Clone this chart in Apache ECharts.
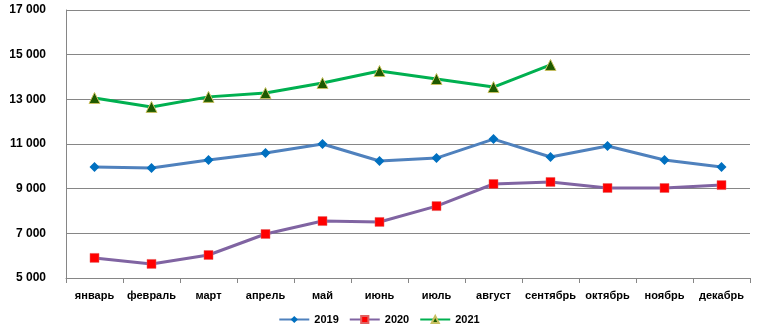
<!DOCTYPE html>
<html><head><meta charset="utf-8">
<script src="https://cdn.jsdelivr.net/npm/echarts@6/dist/echarts.min.js"></script>
<style>html,body{margin:0;padding:0;background:#fff}#c{width:758px;height:336px}</style>
</head><body><div id="c"></div>
<script>
const categories = ['январь','февраль','март','апрель','май','июнь','июль','август','сентябрь','октябрь','ноябрь','декабрь'];
const s2019 = [9970, 9930, 10280, 10600, 11000, 10240, 10370, 11220, 10420, 10910, 10280, 9970];
const s2020 = [5900, 5630, 6030, 6970, 7550, 7510, 8220, 9210, 9300, 9030, 9030, 9160];
const s2021 = [13060, 12660, 13110, 13280, 13730, 14270, 13910, 13550, 14540];
const yTicks = [5000, 7000, 9000, 11000, 13000, 15000, 17000];

const fmt = v => String(v).replace(/\B(?=(\d{3})+(?!\d))/g, ' ');
const font = 'Arial, "Liberation Sans", sans-serif';
const chart = echarts.init(document.getElementById('c'));
chart.setOption({
  animation: false,
  grid: { left: 66, right: 8, top: 10, bottom: 58 },
  xAxis: {
    type: 'category', data: categories, boundaryGap: true,
    axisLine: { lineStyle: { color: '#868686', width: 1 } },
    axisTick: { show: true, interval: 0, alignWithLabel: false, length: 5, lineStyle: { color: '#868686' } },
    axisLabel: { interval: 0, color: '#000', fontFamily: font, fontWeight: 'bold', fontSize: 11, margin: 12 }
  },
  yAxis: {
    type: 'value', min: yTicks[0], max: yTicks[yTicks.length - 1], interval: 2000,
    axisLine: { show: true, lineStyle: { color: '#868686' } },
    axisTick: { show: false },
    splitLine: { lineStyle: { color: '#868686', width: 1 } },
    axisLabel: { color: '#000', fontFamily: font, fontWeight: 'bold', fontSize: 12, margin: 20, formatter: fmt }
  },
  legend: {
    bottom: 6, left: 'center', itemWidth: 30, itemHeight: 9, itemGap: 10,
    textStyle: { color: '#000', fontFamily: font, fontWeight: 'bold', fontSize: 11 },
    data: ['2019', '2020', '2021']
  },
  series: [
    { name: '2019', type: 'line', data: s2019, symbol: 'diamond', symbolSize: 10,
      lineStyle: { color: '#4F81BD', width: 3 }, itemStyle: { color: '#0070C0' } },
    { name: '2020', type: 'line', data: s2020, symbol: 'rect', symbolSize: 9,
      lineStyle: { color: '#8064A2', width: 3 }, itemStyle: { color: '#FF0000', borderColor: '#E06060', borderWidth: 0.5 } },
    { name: '2021', type: 'line', data: s2021, symbol: 'triangle', symbolSize: 11,
      lineStyle: { color: '#00B050', width: 3 }, itemStyle: { color: '#1E5A00', borderColor: '#C8C060', borderWidth: 1 } }
  ]
});
</script></body></html>
